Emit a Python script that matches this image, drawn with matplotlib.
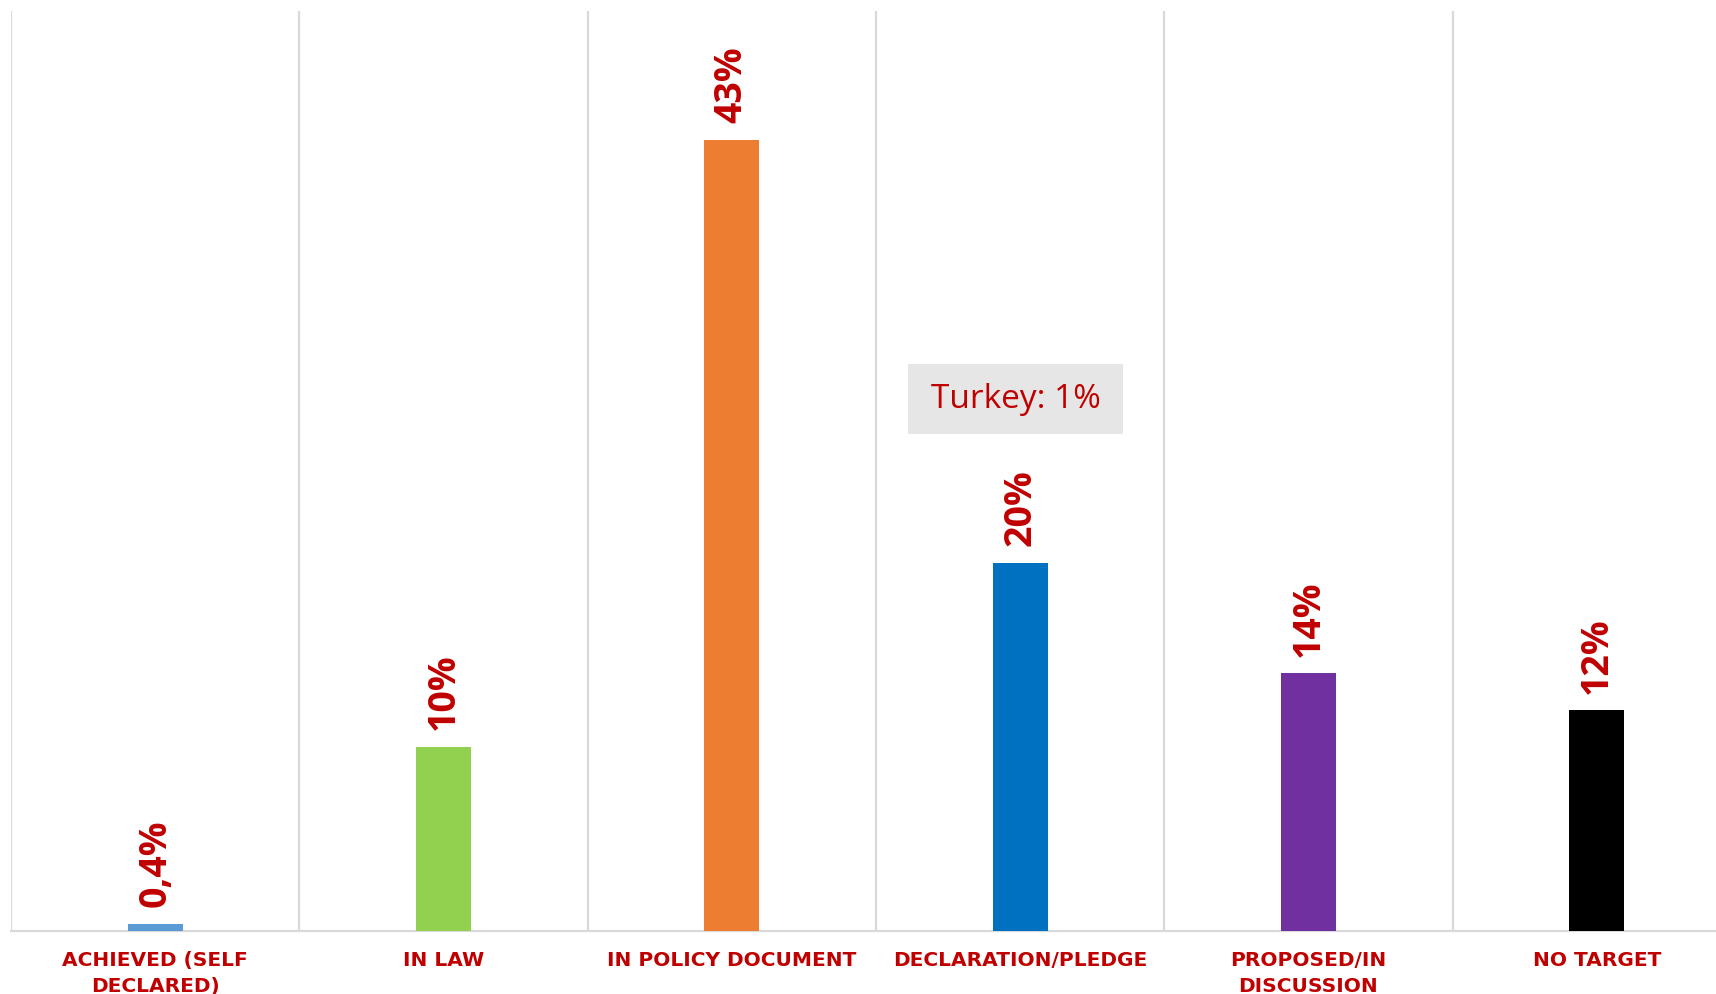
import numpy as np
import matplotlib
matplotlib.use('Agg')
import matplotlib.pyplot as plt
from matplotlib.patches import Rectangle

# Dados
categorias = ['ACHIEVED (SELF\nDECLARED)', 'IN LAW', 'IN POLICY DOCUMENT',
              'DECLARATION/PLEDGE', 'PROPOSED/IN\nDISCUSSION', 'NO TARGET']
valores = [0.4, 10, 43, 20, 14, 12]
rotulos = ['0,4%', '10%', '43%', '20%', '14%', '12%']
cores = ['#5B9BD5', '#92D050', '#ED7D31', '#0070C0', '#7030A0', '#000000']

vermelho = '#C00000'
cinza = '#D9D9D9'

W, H = 1716, 994
fig = plt.figure(figsize=(W / 100, H / 100), dpi=100)
# eixo passa um pouco da borda direita, como no original
ax = fig.add_axes([11 / W, 63 / H, 1730 / W, 920 / H])

x = np.arange(len(valores))
ax.bar(x, valores, width=0.19, color=cores, zorder=3)

ax.set_xlim(-0.5, 5.5)
ax.set_ylim(0, 50)

# linhas verticais entre categorias
ax.set_xticks(np.arange(-0.5, 6, 1), minor=True)
ax.grid(which='minor', axis='x', color=cinza, linewidth=1.6, zorder=0)
ax.tick_params(which='both', length=0)
ax.set_yticks([])

for lado in ['top', 'right', 'left']:
    ax.spines[lado].set_visible(False)
ax.spines['bottom'].set_color(cinza)
ax.spines['bottom'].set_linewidth(1.6)

ax.set_xticks(x)
ax.set_xticklabels(categorias, fontsize=14.5, fontweight='bold', color=vermelho,
                   family='DejaVu Sans', linespacing=1.45)
ax.tick_params(axis='x', pad=14.5)

for xi, v, r in zip(x, valores, rotulos):
    ax.annotate(r, xy=(xi, v), xytext=(0, 12), textcoords='offset points',
                rotation=90, ha='center', va='bottom', fontsize=27,
                fontweight='bold', color=vermelho, family='Open Sans')

# caixa Turkey
ax.add_patch(Rectangle((2.612, 27.0), 0.746, 3.8, facecolor='#E7E6E6',
                       edgecolor='none', zorder=4))
ax.text(2.985, 28.9, 'Turkey: 1%', ha='center', va='center', fontsize=24,
        color=vermelho, family='Open Sans', zorder=5)

fig.savefig('out.png', dpi=100)
